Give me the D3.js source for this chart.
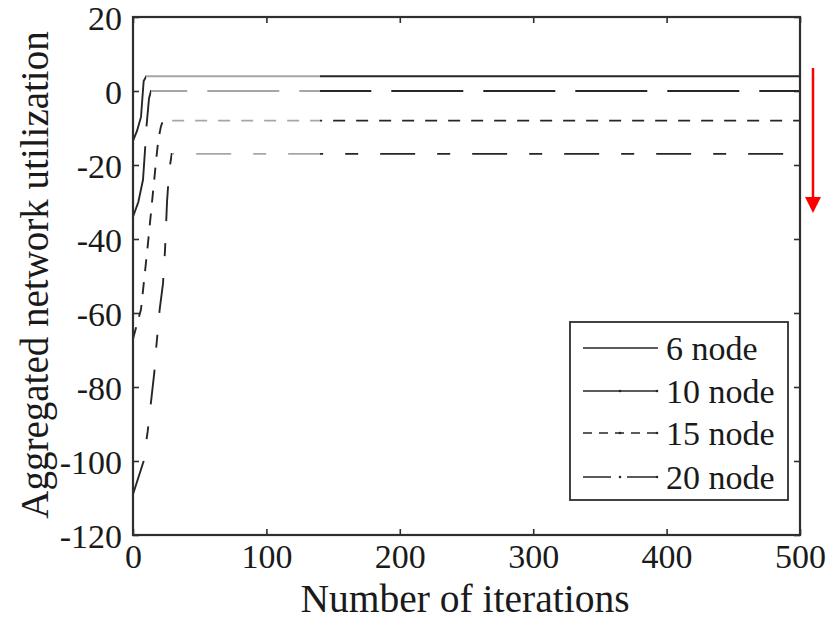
<!DOCTYPE html>
<html>
<head>
<meta charset="utf-8">
<script src="https://cdn.jsdelivr.net/npm/d3@7/dist/d3.min.js"></script>
<style>
  html, body { margin: 0; padding: 0; background: #fff; }
  svg { display: block; }
  text { font-family: "Liberation Serif", "Times New Roman", serif; fill: #1a1a1a; }
</style>
</head>
<body>
<svg id="chart" width="828" height="622"></svg>
<script>
// Aggregated network utilization vs. number of iterations, per network size
const seriesNames = ["6 node", "10 node", "15 node", "20 node"];

const iter6  = [0, 3, 6, 8, 10, 500];
const util6  = [-13.5, -10.8, -7, 2.7, 4, 4];

const iter10 = [0, 4, 7.5, 9, 10, 12, 13.5, 500];
const util10 = [-34, -30, -24, -16, -10, -2, 0, 0];

const iter15 = [0, 6, 11, 17, 19, 21, 22.5, 500];
const util15 = [-67, -59, -42, -20, -13, -9.5, -8, -8];

const iter20 = [0, 8, 11, 13.5, 16, 17.5, 20, 22.5, 24, 25.5, 27, 29, 500];
const util20 = [-109, -100, -92, -84, -76, -69, -59, -52, -43, -30, -22, -17, -17];

const xTicks = [0, 100, 200, 300, 400, 500];
const yTicks = [-120, -100, -80, -60, -40, -20, 0, 20];

const seriesIters = [iter6, iter10, iter15, iter20];
const seriesUtils = [util6, util10, util15, util20];

// ---- layout ----
const plot = { left: 133, right: 800, top: 17, bottom: 535 };
const svg = d3.select("#chart");

const x = d3.scaleLinear().domain([0, 500]).range([plot.left, plot.right]);
const y = d3.scaleLinear().domain([-120, 20]).range([plot.bottom, plot.top]);

const axisColor = "#2e2e2e";
const darkLine = "#262626";
const greyLine = "#a6a6a6";
const tickFont = 34;

// ---- axes with inward ticks ----
const gLeft = svg.append("g").attr("transform", `translate(${plot.left},0)`)
  .call(d3.axisLeft(y).tickValues(yTicks).tickSizeInner(-6).tickSizeOuter(0)
    .tickPadding(11).tickFormat(d => String(d)));
const gRight = svg.append("g").attr("transform", `translate(${plot.right},0)`)
  .call(d3.axisRight(y).tickValues(yTicks).tickSizeInner(-6).tickSizeOuter(0).tickFormat(""));
const gBottom = svg.append("g").attr("transform", `translate(0,${plot.bottom})`)
  .call(d3.axisBottom(x).tickValues(xTicks).tickSizeInner(-6).tickSizeOuter(0)
    .tickPadding(6).tickFormat(d => String(d)));
const gTop = svg.append("g").attr("transform", `translate(0,${plot.top})`)
  .call(d3.axisTop(x).tickValues(xTicks).tickSizeInner(-6).tickSizeOuter(0).tickFormat(""));

[gLeft, gRight, gBottom, gTop].forEach(g => {
  g.select(".domain").remove();
  g.selectAll(".tick line").attr("stroke", axisColor).attr("stroke-width", 1.6);
  g.selectAll(".tick text").attr("font-size", tickFont)
    .attr("font-family", "Liberation Serif, serif").attr("fill", "#1a1a1a");
});
gLeft.selectAll(".tick text").attr("dy", "0.36em");
gBottom.selectAll(".tick text").attr("dy", "0.78em");

// ---- series lines ----
const dashes = [null, "72,20", "12,11", "35,22,13,22"];
const defs = svg.append("defs");
const line = d3.line().x(d => x(d[0])).y(d => y(d[1]));

seriesNames.forEach((name, i) => {
  const its = seriesIters[i], us = seriesUtils[i];
  const pts = its.map((t, k) => [t, us[k]]);
  // plateau start = first point reaching the final level
  const plateauStart = its[us.indexOf(us[us.length - 1])];
  const f1 = (x(plateauStart) - x(0)) / (x(500) - x(0));
  const f2 = (x(140) - x(0)) / (x(500) - x(0));
  const grad = defs.append("linearGradient")
    .attr("id", "g" + i).attr("gradientUnits", "userSpaceOnUse")
    .attr("x1", x(0)).attr("x2", x(500)).attr("y1", 0).attr("y2", 0);
  [[0, darkLine], [f1, darkLine], [f1, greyLine], [f2, greyLine], [f2, darkLine], [1, darkLine]]
    .forEach(([o, c]) => grad.append("stop").attr("offset", o).attr("stop-color", c));
  svg.append("path")
    .attr("d", line(pts))
    .attr("fill", "none")
    .attr("stroke", `url(#g${i})`)
    .attr("stroke-width", 1.9)
    .attr("stroke-dasharray", dashes[i]);
});

// ---- plot frame ----
svg.append("rect")
  .attr("x", plot.left).attr("y", plot.top)
  .attr("width", plot.right - plot.left).attr("height", plot.bottom - plot.top)
  .attr("fill", "none").attr("stroke", axisColor).attr("stroke-width", 2.2);

// ---- axis titles ----
svg.append("text")
  .attr("x", 465).attr("y", 612)
  .attr("text-anchor", "middle").attr("font-size", 39.5)
  .text("Number of iterations");
svg.append("text")
  .attr("transform", `translate(48,275) rotate(-90)`)
  .attr("text-anchor", "middle").attr("font-size", 39)
  .text("Aggregated network utilization");

// ---- legend ----
const legend = { x: 570, y: 322, w: 218, h: 178 };
const lg = svg.append("g");
lg.append("rect")
  .attr("x", legend.x).attr("y", legend.y).attr("width", legend.w).attr("height", legend.h)
  .attr("fill", "#fff").attr("stroke", axisColor).attr("stroke-width", 1.8);
const legendDash = [null, null, "9,7", "28,16,6,0"];
const rowY = [348, 391, 433, 477];
seriesNames.forEach((name, i) => {
  const ry = rowY[i];
  lg.append("line")
    .attr("x1", 583).attr("x2", 658).attr("y1", ry).attr("y2", ry)
    .attr("stroke", darkLine).attr("stroke-width", 1.6)
    .attr("stroke-dasharray", legendDash[i]);
  if (i > 0) {
    lg.append("circle").attr("cx", 620).attr("cy", ry).attr("r", 1.3).attr("fill", darkLine);
    lg.append("circle").attr("cx", 657).attr("cy", ry).attr("r", 1.3).attr("fill", darkLine);
  }
  lg.append("text")
    .attr("x", 666).attr("y", ry).attr("dy", "0.35em")
    .attr("font-size", 34)
    .text(name);
});

// ---- red trend arrow ----
svg.append("line")
  .attr("x1", 813).attr("x2", 813).attr("y1", 68).attr("y2", 200)
  .attr("stroke", "#ff0000").attr("stroke-width", 2.5);
svg.append("path")
  .attr("d", "M805,197 L821,197 L813,213 Z")
  .attr("fill", "#ff0000");
</script>
</body>
</html>
